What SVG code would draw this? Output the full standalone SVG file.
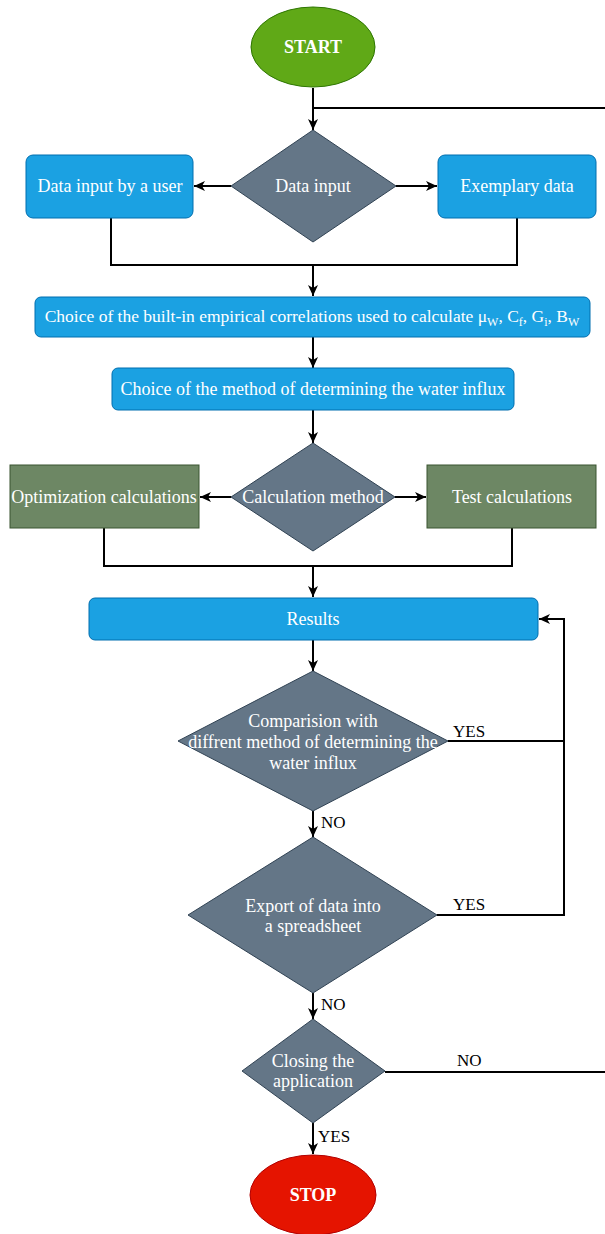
<svg xmlns="http://www.w3.org/2000/svg" width="605" height="1234" viewBox="0 0 605 1234">
<style>
text{font-family:"Liberation Serif","Times New Roman",serif;}
.w{fill:#ffffff;font-size:18px;text-anchor:middle;}
.b{font-weight:bold;}
.lbl{fill:#000000;font-size:17px;}
.blue{fill:#1ba1e2;stroke:#006eaf;stroke-width:1;}
.gray{fill:#647687;stroke:#314354;stroke-width:1;}
.olive{fill:#6d8764;stroke:#3a5431;stroke-width:1;}
.con{fill:none;stroke:#000000;stroke-width:2;}
.arr{marker-end:url(#ah);}
</style>
<defs>
<marker id="ah" markerUnits="userSpaceOnUse" markerWidth="12" markerHeight="10" refX="11" refY="5" orient="auto">
<path d="M0,0 L11,5 L0,10 L3,5 Z" fill="#000000"/>
</marker>
</defs>
<rect width="605" height="1234" fill="#ffffff"/>
<g id="connectors">
<path class="con arr" d="M313,88 V130"/>
<path class="con" d="M605,108 H313"/>
<path class="con arr" d="M231,186 H194"/>
<path class="con arr" d="M396,186 H437"/>
<path class="con" d="M111,218 V265 H517 V218"/>
<path class="con arr" d="M313,265 V296"/>
<path class="con arr" d="M313,337 V368"/>
<path class="con arr" d="M313,410 V443"/>
<path class="con arr" d="M231,497 H200"/>
<path class="con arr" d="M395,497 H426"/>
<path class="con" d="M104,528 V566 H512 V528"/>
<path class="con arr" d="M313,566 V597"/>
<path class="con arr" d="M313,640 V671"/>
<path class="con arr" d="M448,741 H564 V619 H539"/>
<path class="con" d="M437,915 H564 V740"/>
<path class="con arr" d="M313,811 V837"/>
<path class="con arr" d="M313,993 V1019"/>
<path class="con" d="M385,1072 H605"/>
<path class="con arr" d="M313,1123 V1154"/>
<text class="lbl" x="453" y="737">YES</text>
<text class="lbl" x="321" y="828">NO</text>
<text class="lbl" x="453" y="910">YES</text>
<text class="lbl" x="321" y="1010">NO</text>
<text class="lbl" x="457" y="1066">NO</text>
<text class="lbl" x="318" y="1142">YES</text>
</g>
<g id="start">
<ellipse cx="313" cy="47" rx="62" ry="40" fill="#60a917" stroke="#2d7600"/>
<text class="w b" x="313" y="53">START</text>
</g>
<g id="data-input">
<polygon class="gray" points="313,130 396,186 313,242 231,186"/>
<text class="w" x="313" y="192">Data input</text>
</g>
<g id="data-user">
<rect class="blue" x="26" y="155" width="167" height="63" rx="7"/>
<text class="w" x="110" y="192">Data input by a user</text>
</g>
<g id="exemplary">
<rect class="blue" x="438" y="155" width="158" height="63" rx="7"/>
<text class="w" x="517" y="192">Exemplary data</text>
</g>
<g id="choice-correlations">
<rect class="blue" x="35" y="297" width="555" height="40" rx="6"/>
<text class="w" x="312" y="322" style="font-size:17.5px">Choice of the built-in empirical correlations used to calculate μ<tspan dy="4" font-size="12">W</tspan><tspan dy="-4">, C</tspan><tspan dy="4" font-size="12">f</tspan><tspan dy="-4">,  G</tspan><tspan dy="4" font-size="12">i</tspan><tspan dy="-4">, B</tspan><tspan dy="4" font-size="12">W</tspan></text>
</g>
<g id="choice-method">
<rect class="blue" x="112" y="368" width="402" height="42" rx="6"/>
<text class="w" x="313" y="395">Choice of the method of determining the water influx</text>
</g>
<g id="calc-method">
<polygon class="gray" points="313,443 395,497 313,551 231,497"/>
<text class="w" x="313" y="503">Calculation method</text>
</g>
<g id="optimization">
<rect class="olive" x="10" y="465" width="189" height="63"/>
<text class="w" x="104" y="503">Optimization calculations</text>
</g>
<g id="test">
<rect class="olive" x="427" y="465" width="169" height="63"/>
<text class="w" x="512" y="503">Test calculations</text>
</g>
<g id="results">
<rect class="blue" x="89" y="598" width="449" height="42" rx="6"/>
<text class="w" x="313" y="625">Results</text>
</g>
<g id="comparision">
<polygon class="gray" points="313,671 448,741 313,811 178,741"/>
<text class="w" x="313" y="727">Comparision with</text>
<text class="w" x="313" y="748">diffrent method of determining the</text>
<text class="w" x="313" y="769">water influx</text>
</g>
<g id="export">
<polygon class="gray" points="313,837 437,915 313,993 188,915"/>
<text class="w" x="313" y="912">Export of data into</text>
<text class="w" x="313" y="932">a spreadsheet</text>
</g>
<g id="closing">
<polygon class="gray" points="313,1019 385,1071 313,1123 242,1071"/>
<text class="w" x="313" y="1067">Closing the</text>
<text class="w" x="313" y="1087">application</text>
</g>
<g id="stop">
<ellipse cx="313" cy="1195" rx="63" ry="40" fill="#e51400" stroke="#b20000"/>
<text class="w b" x="313" y="1201">STOP</text>
</g>
</svg>
